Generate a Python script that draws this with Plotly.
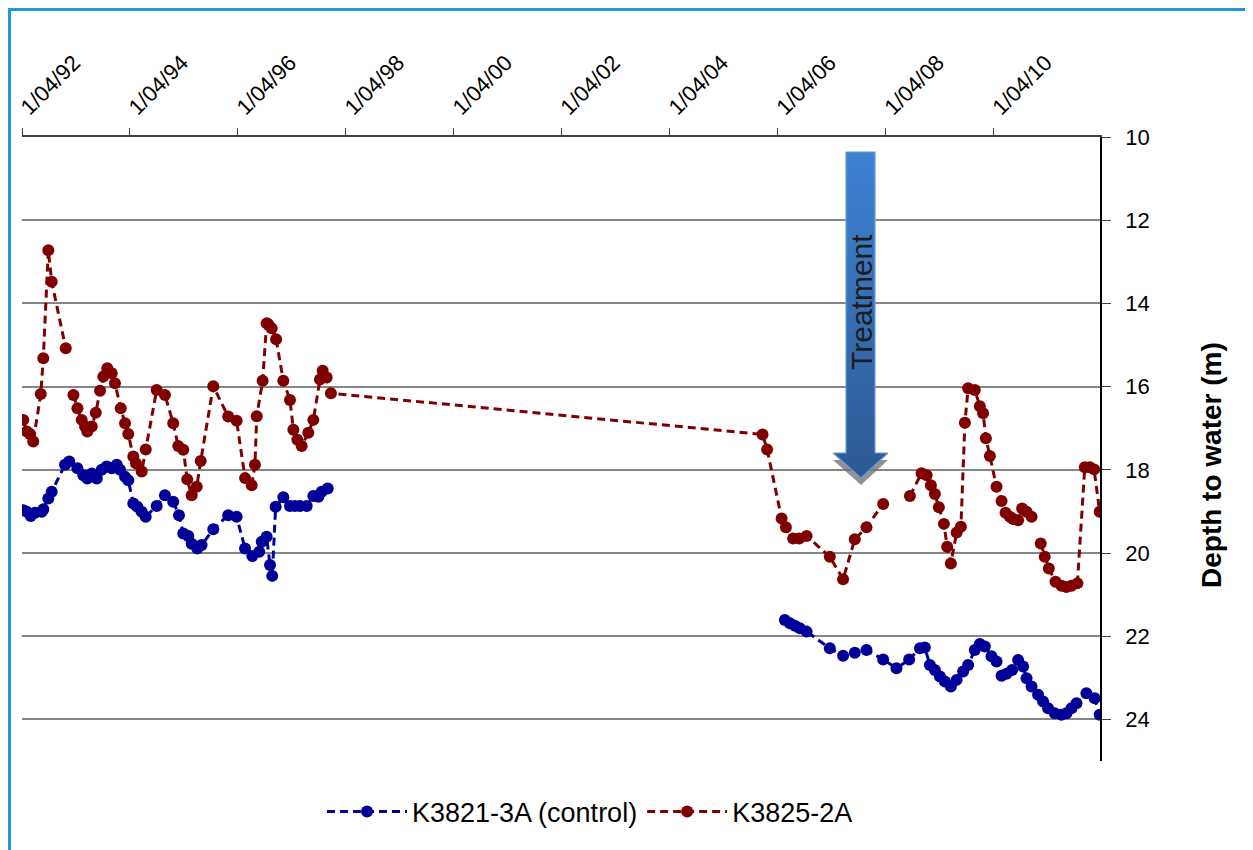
import plotly.graph_objects as go
import pandas as pd

# ---------------- data (decimal years, depth to water in m) ----------------
control_years = [1992.274, 1992.337, 1992.411, 1992.491, 1992.615, 1992.644, 1992.737, 1992.800,
                 1993.046, 1993.126, 1993.274, 1993.385, 1993.459, 1993.541, 1993.633, 1993.726,
                 1993.819, 1993.911, 1994.004, 1994.065, 1994.157, 1994.219, 1994.311, 1994.385,
                 1994.467, 1994.541, 1994.744, 1994.898, 1995.052, 1995.157, 1995.237, 1995.330,
                 1995.393, 1995.496, 1995.578, 1995.793, 1996.070, 1996.226, 1996.380, 1996.515,
                 1996.644, 1996.689, 1996.781, 1996.843, 1996.885, 1996.948, 1997.089, 1997.213,
                 1997.306, 1997.398, 1997.522, 1997.644, 1997.737, 1997.800, 1997.911,
                 None,
                 2006.380, 2006.472, 2006.565, 2006.657, 2006.781, 2007.213, 2007.459, 2007.676,
                 2007.893, 2008.200, 2008.448, 2008.681, 2008.880, 2008.972, 2009.065, 2009.157,
                 2009.250, 2009.343, 2009.454, 2009.559, 2009.681, 2009.774, 2009.898, 2009.991,
                 2010.083, 2010.207, 2010.300, 2010.393, 2010.485, 2010.589, 2010.700, 2010.793,
                 2010.856, 2010.948, 2011.070, 2011.163, 2011.257, 2011.380, 2011.504, 2011.596,
                 2011.689, 2011.781, 2011.967, 2012.120, 2012.213]
control_depth = [18.97, 19.01, 19.11, 19.03, 19.01, 18.95, 18.69, 18.53,
                 17.88, 17.80, 17.96, 18.13, 18.21, 18.09, 18.21, 18.00,
                 17.92, 17.96, 17.88, 18.00, 18.17, 18.25, 18.81, 18.89,
                 19.01, 19.13, 18.87, 18.61, 18.77, 19.09, 19.53, 19.59,
                 19.78, 19.89, 19.81, 19.43, 19.09, 19.13, 19.89, 20.07,
                 19.97, 19.73, 19.61, 20.29, 20.55, 18.89, 18.66, 18.87,
                 18.87, 18.87, 18.87, 18.63, 18.65, 18.53, 18.45,
                 None,
                 21.61, 21.69, 21.75, 21.81, 21.89, 22.29, 22.47, 22.40,
                 22.33, 22.56, 22.77, 22.56, 22.29, 22.27, 22.69, 22.81,
                 22.97, 23.09, 23.21, 23.05, 22.85, 22.69, 22.33, 22.19,
                 22.25, 22.48, 22.61, 22.95, 22.90, 22.81, 22.57, 22.73,
                 23.01, 23.21, 23.41, 23.57, 23.73, 23.85, 23.89, 23.85,
                 23.73, 23.61, 23.37, 23.49, 23.89]

treated_years = [1992.274, 1992.337, 1992.398, 1992.459, 1992.596, 1992.644, 1992.737, 1992.800,
                 1993.059,
                 None,
                 1993.200, 1993.274, 1993.356, 1993.417, 1993.459, 1993.541, 1993.615, 1993.694,
                 1993.756, 1993.830, 1993.911, 1993.972, 1994.078, 1994.157, 1994.219, 1994.311,
                 1994.361, 1994.467, 1994.541, 1994.744, 1994.898, 1995.052, 1995.144, 1995.237,
                 1995.311, 1995.393, 1995.485, 1995.559, 1995.793, 1996.070, 1996.226, 1996.380,
                 1996.504, 1996.565, 1996.596, 1996.707, 1996.781, 1996.811, 1996.874, 1996.954,
                 1997.089, 1997.213, 1997.274, 1997.348, 1997.430, 1997.552, 1997.644, 1997.769,
                 1997.819, 1997.893, 1997.972,
                 2005.967, 2006.052, 2006.319, 2006.398, 2006.533, 2006.644, 2006.781, 2007.213,
                 2007.459, 2007.676, 2007.893, 2008.200,
                 None,
                 2008.694, 2008.911, 2009.004, 2009.083, 2009.157, 2009.231, 2009.324, 2009.385,
                 2009.454, 2009.559, 2009.639, 2009.713, 2009.774, 2009.898, 2009.991, 2010.052,
                 2010.102, 2010.176, 2010.300, 2010.393, 2010.467, 2010.546, 2010.607, 2010.700,
                 2010.774, 2010.856, 2010.948,
                 None,
                 2011.120, 2011.194, 2011.269, 2011.393, 2011.504, 2011.596, 2011.689, 2011.800,
                 2011.935, 2012.028, 2012.107, 2012.213]
treated_depth = [16.80, 17.08, 17.14, 17.32, 16.18, 15.32, 12.72, 13.48,
                 15.08,
                 None,
                 16.20, 16.52, 16.80, 16.96, 17.08, 16.96, 16.63, 16.10,
                 15.76, 15.56, 15.68, 15.92, 16.52, 16.88, 17.14, 17.68,
                 17.84, 18.04, 17.51, 16.08, 16.20, 16.88, 17.43, 17.52,
                 18.23, 18.61, 18.41, 17.79, 15.99, 16.72, 16.82, 18.20,
                 18.37, 17.88, 16.71, 15.86, 14.48, 14.50, 14.60, 14.86,
                 15.86, 16.32, 17.04, 17.28, 17.43, 17.11, 16.80, 15.83,
                 15.62, 15.78, 16.16,
                 17.15, 17.51, 19.17, 19.38, 19.65, 19.65, 19.59, 20.09,
                 20.63, 19.67, 19.38, 18.82,
                 None,
                 18.63, 18.08, 18.13, 18.37, 18.58, 18.90, 19.30, 19.85,
                 20.25, 19.51, 19.37, 16.87, 16.04, 16.08, 16.47, 16.64,
                 17.24, 17.67, 18.41, 18.75, 19.03, 19.13, 19.18, 19.21,
                 18.93, 19.01, 19.13,
                 None,
                 19.77, 20.09, 20.37, 20.69, 20.79, 20.82, 20.79, 20.73,
                 17.94, 17.94, 17.99, 19.01]

tick_dates = ["1992-04-01", "1994-04-01", "1996-04-01", "1998-04-01", "2000-04-01",
              "2002-04-01", "2004-04-01", "2006-04-01", "2008-04-01", "2010-04-01"]
tick_labels = ["1/04/92", "1/04/94", "1/04/96", "1/04/98", "1/04/00",
               "1/04/02", "1/04/04", "1/04/06", "1/04/08", "1/04/10"]
y_ticks = [10, 12, 14, 16, 18, 20, 22, 24]

series_names = ["K3821-3A (control)", "K3825-2A"]
series_colors = ["#000099", "#800000"]


def to_date(y):
    if y is None:
        return None
    year = int(y)
    start = pd.Timestamp(year=year, month=1, day=1)
    days = 366 if pd.Timestamp(year=year, month=12, day=31).dayofyear == 366 else 365
    return (start + pd.Timedelta(days=(y - year) * days)).strftime("%Y-%m-%d")


FONT = "Liberation Sans, Arial, sans-serif"

# plot area in page pixels: x 22..1100, y 137..761 (page has an 8px body offset)
PX0, PX1, PY0, PY1 = 22, 1100, 137, 761
PW, PH = PX1 - PX0, PY1 - PY0


def paper_x(px):
    return (px - PX0) / PW


def paper_y(py):
    return (PY1 - py) / PH


fig = go.Figure()

for name, color, xs, ys in [(series_names[0], series_colors[0], control_years, control_depth),
                            (series_names[1], series_colors[1], treated_years, treated_depth)]:
    fig.add_trace(go.Scatter(
        x=[to_date(v) for v in xs], y=ys, name=name, mode="lines+markers",
        line=dict(color=color, width=3, dash="8px,5px"),
        marker=dict(color=color, size=12),
        connectgaps=False,
    ))

# ---- "Treatment" arrow on a hidden pixel-like overlay axis ----
arrow_x = [846, 875, 875, 888, 861, 833, 846, 846]
arrow_y = [152, 152, 453, 453, 478, 453, 453, 152]
shadow_dy = 7
fig.add_trace(go.Scatter(
    x=arrow_x, y=[v + shadow_dy for v in arrow_y], xaxis="x2", yaxis="y2",
    mode="lines", fill="toself", fillcolor="rgba(110,110,110,0.75)",
    line=dict(width=0), hoverinfo="skip", showlegend=False))
fig.add_trace(go.Scatter(
    x=arrow_x, y=arrow_y, xaxis="x2", yaxis="y2",
    mode="lines", fill="toself",
    fillgradient=dict(type="vertical", start=152, stop=478,
                      colorscale=[[0, "#3e82d2"], [1, "#2c5993"]]),
    line=dict(width=1.2, color="#6d9bd8"), hoverinfo="skip", showlegend=False))

fig.add_annotation(x=861, y=302, xref="x2", yref="y2", text="Treatment",
                   textangle=-90, showarrow=False, xanchor="center", yanchor="middle",
                   font=dict(family=FONT, size=30, color="#1c1c1c"))

# y-axis title
fig.add_annotation(x=paper_x(1211), y=paper_y(465), xref="paper", yref="paper",
                   text="<b>Depth to water (m)</b>", textangle=-90, showarrow=False,
                   xanchor="center", yanchor="middle",
                   font=dict(family=FONT, size=28, color="black"))

# outer light-blue frame
fig.add_shape(type="rect", xref="paper", yref="paper",
              x0=paper_x(9.5), x1=paper_x(1249.5),
              y0=paper_y(900), y1=paper_y(9.5),
              line=dict(color="#1f97d4", width=3), fillcolor="rgba(0,0,0,0)", layer="below")

fig.update_layout(
    width=1245, height=842,
    margin=dict(l=PX0 - 8, r=1253 - PX1, t=PY0 - 8, b=850 - PY1),
    paper_bgcolor="white", plot_bgcolor="white",
    font=dict(family=FONT, color="black"),
    showlegend=True,
    legend=dict(orientation="h", x=paper_x(590), xanchor="center", y=paper_y(812), yanchor="middle",
                font=dict(family=FONT, size=27, color="black"), itemwidth=80,
                bgcolor="rgba(0,0,0,0)"),
    xaxis=dict(
        type="date", side="top",
        range=[to_date(1992.25), to_date(2012.216)],
        tickmode="array", tickvals=tick_dates, ticktext=tick_labels,
        tickangle=-45, tickfont=dict(family=FONT, size=22, color="black"),
        ticks="outside", ticklen=7, tickcolor="#404040", tickwidth=1,
        showline=True, linecolor="#404040", linewidth=1.5,
        showgrid=False, zeroline=False, automargin=False,
    ),
    yaxis=dict(
        side="right", range=[25, 10], autorange=False,
        tickmode="array", tickvals=y_ticks,
        tickfont=dict(family=FONT, size=22, color="black"),
        ticks="outside", ticklen=9, tickcolor="#404040", tickwidth=1,
        ticklabelstandoff=10,
        showline=True, linecolor="black", linewidth=1.5,
        showgrid=True, gridcolor="#868686", gridwidth=1.5,
        zeroline=False, automargin=False,
    ),
    xaxis2=dict(overlaying="x", range=[PX0, PX1], visible=False, fixedrange=True),
    yaxis2=dict(overlaying="y", range=[PY1, PY0], autorange=False, visible=False, fixedrange=True),
)

fig.write_html("out.html")
